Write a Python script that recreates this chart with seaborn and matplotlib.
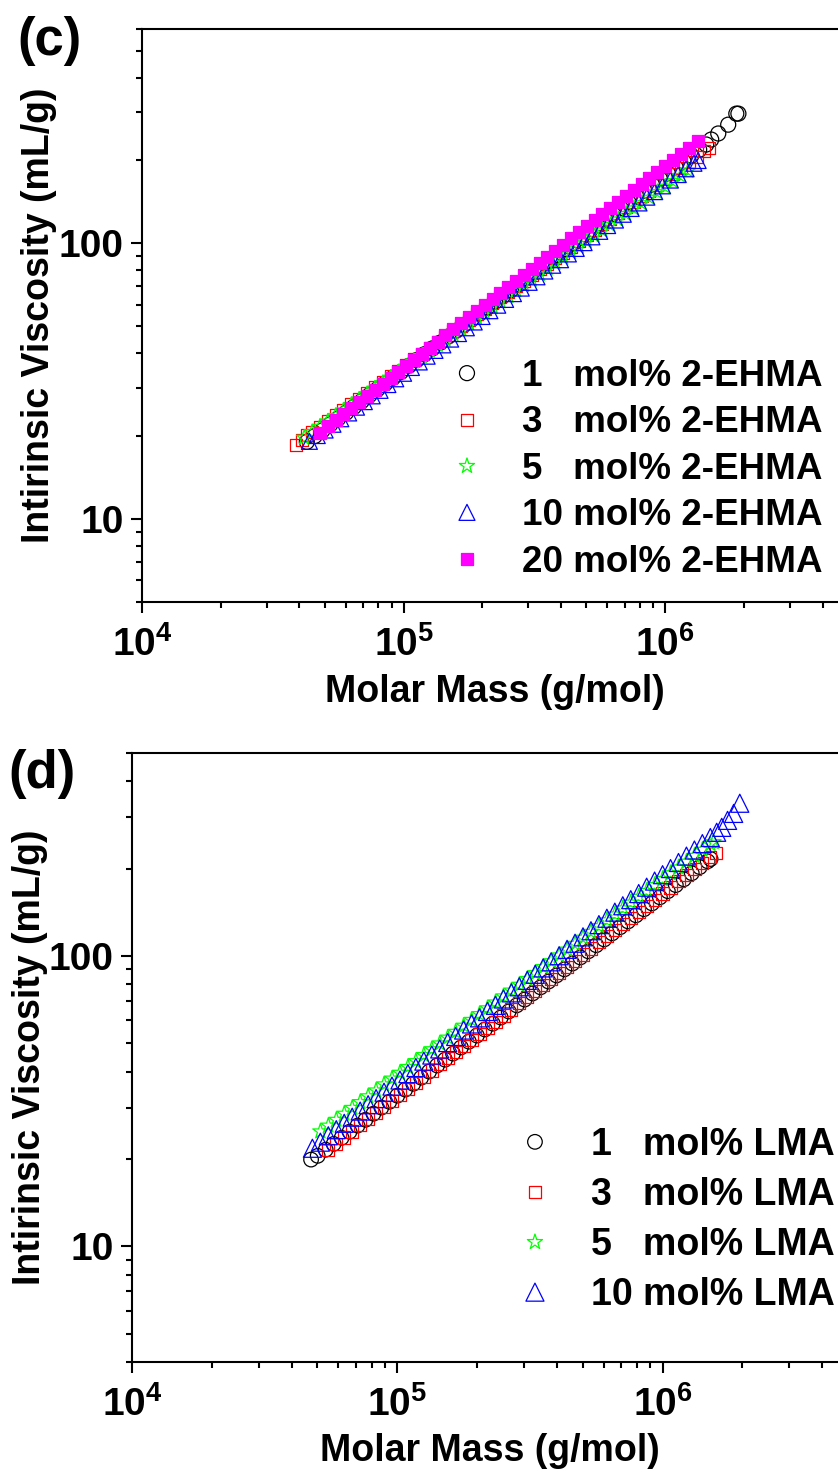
import numpy as np
import pandas as pd
import matplotlib
matplotlib.use("Agg")
import matplotlib.pyplot as plt
import seaborn as sns
from matplotlib.ticker import LogLocator, NullFormatter

# ---- data: log10(molar mass, g/mol) and log10(intrinsic viscosity, mL/g)

# panel (c): 2-EHMA
c1_logM = [4.630, 4.660, 4.690, 4.720, 4.750, 4.780, 4.810, 4.840, 4.870, 4.900,
           4.930, 4.960, 4.990, 5.020, 5.050, 5.080, 5.110, 5.140, 5.170, 5.200,
           5.230, 5.260, 5.290, 5.320, 5.350, 5.380, 5.410, 5.440, 5.470, 5.500,
           5.530, 5.560, 5.590, 5.620, 5.650, 5.680, 5.710, 5.740, 5.770, 5.800,
           5.830, 5.860, 5.890, 5.920, 5.950, 5.980, 6.010, 6.040, 6.070, 6.100,
           6.130, 6.157, 6.176, 6.203, 6.241, 6.272, 6.280]
c1_logeta = [1.280, 1.301, 1.322, 1.344, 1.365, 1.386, 1.407, 1.428, 1.450, 1.471,
             1.492, 1.513, 1.534, 1.556, 1.577, 1.598, 1.619, 1.640, 1.662, 1.683,
             1.704, 1.725, 1.746, 1.768, 1.789, 1.810, 1.831, 1.852, 1.874, 1.895,
             1.916, 1.937, 1.958, 1.980, 2.001, 2.022, 2.043, 2.064, 2.086, 2.107,
             2.128, 2.149, 2.170, 2.192, 2.213, 2.234, 2.255, 2.276, 2.298, 2.319,
             2.340, 2.359, 2.377, 2.399, 2.431, 2.471, 2.471]

c3_logM = [4.590, 4.613, 4.632, 4.651,
           4.680, 4.710, 4.740, 4.770, 4.800, 4.830, 4.860, 4.890, 4.920, 4.950,
           4.980, 5.010, 5.040, 5.070, 5.100, 5.130, 5.160, 5.190, 5.220, 5.250,
           5.280, 5.310, 5.340, 5.370, 5.400, 5.430, 5.460, 5.490, 5.520, 5.550,
           5.580, 5.610, 5.640, 5.670, 5.700, 5.730, 5.760, 5.790, 5.820, 5.850,
           5.880, 5.910, 5.940, 5.970, 6.000, 6.030, 6.060, 6.090, 6.120, 6.150,
           6.169]
c3_logeta = [1.268, 1.286, 1.304, 1.315,
             1.335, 1.355, 1.376, 1.396, 1.417, 1.437, 1.457, 1.478, 1.498, 1.519,
             1.539, 1.559, 1.580, 1.600, 1.621, 1.641, 1.661, 1.682, 1.702, 1.723,
             1.743, 1.763, 1.784, 1.804, 1.825, 1.845, 1.865, 1.886, 1.906, 1.927,
             1.947, 1.967, 1.988, 2.008, 2.029, 2.049, 2.069, 2.090, 2.110, 2.131,
             2.151, 2.171, 2.192, 2.212, 2.233, 2.253, 2.273, 2.294, 2.314, 2.335,
             2.348]

c5_logM = [4.620, 4.650, 4.680, 4.710, 4.740, 4.770, 4.800, 4.830, 4.860, 4.890,
           4.920, 4.950, 4.980, 5.010, 5.040, 5.070, 5.100, 5.130, 5.160, 5.190,
           5.220, 5.250, 5.280, 5.310, 5.340, 5.370, 5.400, 5.430, 5.460, 5.490,
           5.520, 5.550, 5.580, 5.610, 5.640, 5.670, 5.700, 5.730, 5.760, 5.790,
           5.820, 5.850, 5.880, 5.910, 5.940, 5.970, 6.000, 6.030, 6.060, 6.088]
c5_logeta = [1.295, 1.315, 1.335, 1.354, 1.374, 1.394, 1.414, 1.434, 1.453, 1.473,
             1.493, 1.513, 1.533, 1.552, 1.572, 1.592, 1.612, 1.632, 1.651, 1.671,
             1.691, 1.711, 1.731, 1.750, 1.770, 1.790, 1.810, 1.830, 1.849, 1.869,
             1.889, 1.909, 1.929, 1.948, 1.968, 1.988, 2.008, 2.028, 2.047, 2.067,
             2.087, 2.107, 2.127, 2.146, 2.166, 2.186, 2.206, 2.226, 2.245, 2.264]

c10_logM = [4.640, 4.670, 4.700, 4.730, 4.760, 4.790, 4.820, 4.850, 4.880, 4.910,
            4.940, 4.970, 5.000, 5.030, 5.060, 5.090, 5.120, 5.150, 5.180, 5.210,
            5.240, 5.270, 5.300, 5.330, 5.360, 5.390, 5.420, 5.450, 5.480, 5.510,
            5.540, 5.570, 5.600, 5.630, 5.660, 5.690, 5.720, 5.750, 5.780, 5.810,
            5.840, 5.870, 5.900, 5.930, 5.960, 5.990, 6.020, 6.050, 6.080, 6.110,
            6.126]
c10_logeta = [1.282, 1.303, 1.323, 1.344, 1.364, 1.385, 1.406, 1.426, 1.447, 1.467,
              1.488, 1.509, 1.529, 1.550, 1.570, 1.591, 1.612, 1.632, 1.653, 1.673,
              1.694, 1.715, 1.735, 1.756, 1.776, 1.797, 1.818, 1.838, 1.859, 1.879,
              1.900, 1.921, 1.941, 1.962, 1.982, 2.003, 2.024, 2.044, 2.065, 2.085,
              2.106, 2.127, 2.147, 2.168, 2.188, 2.209, 2.230, 2.250, 2.271, 2.291,
              2.301]

c20_logM = [4.680, 4.710, 4.740, 4.770, 4.800, 4.830, 4.860, 4.890, 4.920, 4.950,
            4.980, 5.010, 5.040, 5.070, 5.100, 5.130, 5.160, 5.190, 5.220, 5.250,
            5.280, 5.310, 5.340, 5.370, 5.400, 5.430, 5.460, 5.490, 5.520, 5.550,
            5.580, 5.610, 5.640, 5.670, 5.700, 5.730, 5.760, 5.790, 5.820, 5.850,
            5.880, 5.910, 5.940, 5.970, 6.000, 6.030, 6.060, 6.090, 6.126]
c20_logeta = [1.314, 1.336, 1.358, 1.380, 1.402, 1.424, 1.446, 1.468, 1.490, 1.512,
              1.534, 1.556, 1.578, 1.600, 1.622, 1.644, 1.666, 1.688, 1.710, 1.732,
              1.754, 1.776, 1.798, 1.820, 1.842, 1.864, 1.886, 1.908, 1.930, 1.952,
              1.974, 1.996, 2.018, 2.040, 2.062, 2.084, 2.106, 2.128, 2.150, 2.172,
              2.194, 2.216, 2.238, 2.260, 2.282, 2.304, 2.326, 2.348, 2.373]

# panel (d): LMA
d1_logM = [4.675,
           4.700, 4.730, 4.760, 4.790, 4.820, 4.850, 4.880, 4.910, 4.940, 4.970,
           5.000, 5.030, 5.060, 5.090, 5.120, 5.150, 5.180, 5.210, 5.240, 5.270,
           5.300, 5.330, 5.360, 5.390, 5.420, 5.450, 5.480, 5.510, 5.540, 5.570,
           5.600, 5.630, 5.660, 5.690, 5.720, 5.750, 5.780, 5.810, 5.840, 5.870,
           5.900, 5.930, 5.960, 5.990, 6.020, 6.050, 6.080, 6.110, 6.140, 6.170,
           6.181]
d1_logeta = [1.299,
             1.312, 1.333, 1.353, 1.374, 1.395, 1.416, 1.436, 1.457, 1.478, 1.498,
             1.519, 1.540, 1.560, 1.581, 1.602, 1.623, 1.643, 1.664, 1.685, 1.705,
             1.726, 1.747, 1.767, 1.788, 1.809, 1.830, 1.850, 1.871, 1.892, 1.912,
             1.933, 1.954, 1.974, 1.995, 2.016, 2.037, 2.057, 2.078, 2.099, 2.119,
             2.140, 2.161, 2.181, 2.202, 2.223, 2.244, 2.264, 2.285, 2.306, 2.326,
             2.334]

d3_logM = [4.740, 4.770, 4.800, 4.830, 4.860, 4.890, 4.920, 4.950, 4.980, 5.010,
           5.040, 5.070, 5.100, 5.130, 5.160, 5.190, 5.220, 5.250, 5.280, 5.310,
           5.340, 5.370, 5.400, 5.430, 5.460, 5.490, 5.520, 5.550, 5.580, 5.610,
           5.640, 5.670, 5.700, 5.730, 5.760, 5.790, 5.820, 5.850, 5.880, 5.910,
           5.940, 5.970, 6.000, 6.030, 6.060, 6.090, 6.120, 6.150, 6.180, 6.200]
d3_logeta = [1.333, 1.354, 1.375, 1.396, 1.417, 1.438, 1.459, 1.480, 1.501, 1.522,
             1.543, 1.564, 1.585, 1.606, 1.627, 1.648, 1.669, 1.690, 1.711, 1.732,
             1.753, 1.774, 1.795, 1.816, 1.837, 1.858, 1.879, 1.900, 1.921, 1.942,
             1.963, 1.984, 2.005, 2.026, 2.047, 2.068, 2.089, 2.110, 2.131, 2.152,
             2.173, 2.194, 2.215, 2.236, 2.257, 2.278, 2.299, 2.320, 2.341, 2.355]

d5_logM = [4.710, 4.740, 4.770, 4.800, 4.830, 4.860, 4.890, 4.920, 4.950, 4.980,
           5.010, 5.040, 5.070, 5.100, 5.130, 5.160, 5.190, 5.220, 5.250, 5.280,
           5.310, 5.340, 5.370, 5.400, 5.430, 5.460, 5.490, 5.520, 5.550, 5.580,
           5.610, 5.640, 5.670, 5.700, 5.730, 5.760, 5.790, 5.820, 5.850, 5.880,
           5.910, 5.940, 5.970, 6.000, 6.030, 6.060, 6.090, 6.120, 6.150, 6.180,
           6.192]
d5_logeta = [1.396, 1.416, 1.436, 1.457, 1.477, 1.497, 1.517, 1.537, 1.558, 1.578,
             1.598, 1.618, 1.638, 1.659, 1.679, 1.699, 1.719, 1.739, 1.760, 1.780,
             1.800, 1.820, 1.840, 1.861, 1.881, 1.901, 1.921, 1.941, 1.962, 1.982,
             2.002, 2.022, 2.042, 2.063, 2.083, 2.103, 2.123, 2.143, 2.164, 2.184,
             2.204, 2.224, 2.244, 2.265, 2.285, 2.305, 2.325, 2.345, 2.366, 2.386,
             2.392]

d10_logM = [4.680, 4.710, 4.740, 4.770, 4.800, 4.830, 4.860, 4.890, 4.920, 4.950,
            4.980, 5.010, 5.040, 5.070, 5.100, 5.130, 5.160, 5.190, 5.220, 5.250,
            5.280, 5.310, 5.340, 5.370, 5.400, 5.430, 5.460, 5.490, 5.520, 5.550,
            5.580, 5.610, 5.640, 5.670, 5.700, 5.730, 5.760, 5.790, 5.820, 5.850,
            5.880, 5.910, 5.940, 5.970, 6.000, 6.030, 6.060, 6.090, 6.120, 6.150,
            6.180, 6.204, 6.223, 6.245, 6.268, 6.291]
d10_logeta = [1.338, 1.359, 1.381, 1.402, 1.424, 1.445, 1.466, 1.488, 1.509, 1.531,
              1.552, 1.573, 1.595, 1.616, 1.638, 1.659, 1.680, 1.702, 1.723, 1.745,
              1.766, 1.787, 1.809, 1.830, 1.852, 1.873, 1.894, 1.916, 1.937, 1.959,
              1.980, 2.001, 2.023, 2.044, 2.066, 2.087, 2.108, 2.130, 2.151, 2.173,
              2.194, 2.215, 2.237, 2.258, 2.280, 2.301, 2.322, 2.344, 2.365, 2.387,
              2.408, 2.426, 2.443, 2.467, 2.491, 2.526]

c_labels = ['1   mol% 2-EHMA', '3   mol% 2-EHMA', '5   mol% 2-EHMA',
            '10 mol% 2-EHMA', '20 mol% 2-EHMA']
d_labels = ['1   mol% LMA', '3   mol% LMA', '5   mol% LMA', '10 mol% LMA']

x_ticks = [1e4, 1e5, 1e6]
x_tick_labels = [r'$\mathbf{10^{4}}$', r'$\mathbf{10^{5}}$', r'$\mathbf{10^{6}}$']
y_ticks = [10, 100]
y_tick_labels = ['10', '100']

# ---- styles (marker, colour, marker size in pt, filled)
c_styles = [('o', 'black', 10.8, False), ('s', 'red', 8.6, False),
            ('*', '#00FF00', 11.5, False), ('^', 'blue', 11.5, False),
            ('s', '#FF00FF', 8.6, True)]
d_styles = [('o', 'black', 10.5, False), ('s', 'red', 8.8, False),
            ('*', '#00FF00', 11.5, False), ('^', 'blue', 13.0, False)]

sns.set_theme(style='ticks', rc={'axes.edgecolor': 'black', 'xtick.color': 'black',
                                 'ytick.color': 'black', 'axes.linewidth': 1.5,
                                 'text.color': 'black', 'axes.labelcolor': 'black'})
plt.rcParams['font.family'] = ['Liberation Sans', 'DejaVu Sans']
plt.rcParams['font.weight'] = 'bold'
plt.rcParams['mathtext.fontset'] = 'custom'
plt.rcParams['mathtext.rm'] = 'Liberation Sans:bold'
plt.rcParams['mathtext.bf'] = 'Liberation Sans:bold'
plt.rcParams['mathtext.it'] = 'Liberation Sans:bold'


def draw_panel(ax, series, labels, styles, ylim, leg_anchor, leg_size, leg_spacing):
    for (logM, logeta), label, (mk, col, ms, filled) in zip(series, labels, styles):
        df = pd.DataFrame({'mass': np.power(10.0, logM), 'eta': np.power(10.0, logeta)})
        sns.scatterplot(data=df, x='mass', y='eta', ax=ax, marker=mk, s=ms ** 2,
                        color=col, facecolor=col if filled else 'none', edgecolor=col,
                        linewidth=0.9, label=label, zorder=3)
    ax.set_xscale('log')
    ax.set_yscale('log')
    ax.set_xlim(1e4, 5e6)
    ax.set_ylim(*ylim)
    ax.set_xticks(x_ticks, x_tick_labels)
    ax.set_yticks(y_ticks, y_tick_labels)
    for axis in (ax.xaxis, ax.yaxis):
        axis.set_minor_locator(LogLocator(base=10, subs=np.arange(2, 10), numticks=30))
        axis.set_minor_formatter(NullFormatter())
    ax.tick_params(which='major', direction='out', length=8, width=1.5,
                   labelsize=28, labelcolor='black', top=False, right=False)
    ax.tick_params(axis='y', which='major', pad=5)
    ax.tick_params(axis='x', which='major', pad=9)
    ax.tick_params(which='minor', direction='out', length=4.5, width=1.5,
                   top=False, right=False)
    ax.spines['right'].set_visible(False)
    ax.set_xlabel('Molar Mass (g/mol)', fontsize=27, fontweight='bold', color='black')
    ax.set_ylabel('Intirinsic Viscosity (mL/g)', fontsize=27, fontweight='bold', color='black')
    leg = ax.legend(loc='upper left', bbox_to_anchor=leg_anchor, bbox_transform=fig.transFigure,
                    frameon=False, prop={'weight': 'bold', 'size': leg_size},
                    handlelength=1.0, handletextpad=1.0, labelspacing=leg_spacing,
                    borderpad=0, borderaxespad=0, scatterpoints=1, scatteryoffsets=[0.5])
    for t in leg.get_texts():
        t.set_color('black')


fig = plt.figure(figsize=(8.38, 14.72), dpi=100)

ax_c = fig.add_axes([0.16945, 0.59103, 0.84248, 0.38927])
draw_panel(ax_c,
           [(c1_logM, c1_logeta), (c3_logM, c3_logeta), (c5_logM, c5_logeta),
            (c10_logM, c10_logeta), (c20_logM, c20_logeta)],
           c_labels, c_styles, (5, 600), (0.5353, 0.7561), 26.5, 0.31)
ax_c.yaxis.set_label_coords(-0.120, 0.5)
ax_c.xaxis.set_label_coords(0.5, -0.126)

ax_d = fig.add_axes([0.15752, 0.07473, 0.85442, 0.41372])
draw_panel(ax_d,
           [(d1_logM, d1_logeta), (d3_logM, d3_logeta), (d5_logM, d5_logeta),
            (d10_logM, d10_logeta)],
           d_labels, d_styles, (4, 500), (0.616, 0.2344), 27, 0.376)
ax_d.yaxis.set_label_coords(-0.118, 0.5)
ax_d.xaxis.set_label_coords(0.5, -0.117)

fig.text(49 / 838, 1 - 41 / 1472, '(c)', fontsize=38, fontweight='bold', ha='center', va='center')
fig.text(41.5 / 838, 1 - 774.5 / 1472, '(d)', fontsize=38, fontweight='bold', ha='center', va='center')

fig.savefig('out.png', dpi=100)
